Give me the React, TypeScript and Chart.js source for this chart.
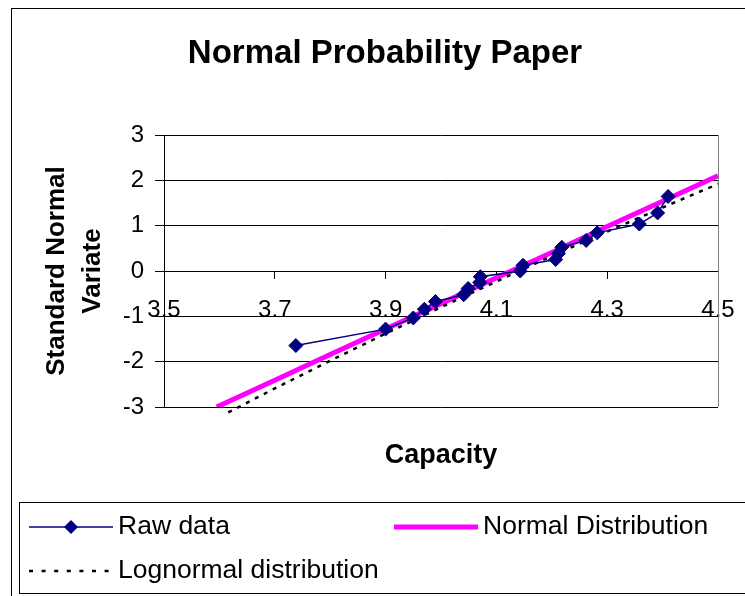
import React, { useEffect, useRef } from 'react';
import { Chart, registerables } from 'chart.js';

Chart.register(...registerables);

// ---- data ----
const rawCapacity = [3.738, 3.9, 3.95, 3.97, 3.99, 4.041, 4.049, 4.07, 4.071, 4.143, 4.148, 4.207, 4.212, 4.218, 4.262, 4.282, 4.358, 4.391, 4.41];
const rawVariate = [-1.645, -1.282, -1.036, -0.842, -0.674, -0.524, -0.385, -0.253, -0.126, 0, 0.126, 0.253, 0.385, 0.524, 0.674, 0.842, 1.036, 1.282, 1.645];

const normalCapacity = [3.595, 3.7, 3.8, 3.9, 4.0, 4.1, 4.2, 4.3, 4.4, 4.5];
const normalVariate = [-3.0, -2.41, -1.84, -1.28, -0.72, -0.15, 0.41, 0.98, 1.54, 2.1];

const lognormalCapacity = [3.616, 3.7, 3.8, 3.9, 4.0, 4.1, 4.2, 4.3, 4.4, 4.5];
const lognormalVariate = [-3.12, -2.59, -1.98, -1.38, -0.8, -0.23, 0.33, 0.87, 1.4, 1.92];

const xTickValues = [3.5, 3.7, 3.9, 4.1, 4.3, 4.5];
const yTickValues = [-3, -2, -1, 0, 1, 2, 3];

const chartTitle = 'Normal Probability Paper';
const xTitle = 'Capacity';
const yTitle = ['Standard Normal', 'Variate'];
const legendLabels = ['Raw data', 'Normal Distribution', 'Lognormal distribution'];

const NAVY = '#000080';
const PINK = '#FF00FF';
const BLACK = '#000000';
const FONT = "'Liberation Sans', Arial, Helvetica, sans-serif";

const decorPlugin = {
  id: 'decor',
  beforeDraw(chart: any) {
    const ctx = chart.ctx;
    ctx.save();
    ctx.fillStyle = '#ffffff';
    ctx.fillRect(0, 0, chart.width, chart.height);
    ctx.restore();
  },
  afterDraw(chart: any) {
    const ctx = chart.ctx;
    const a = chart.chartArea;
    ctx.save();
    // outer chart frame
    ctx.strokeStyle = BLACK;
    ctx.lineWidth = 1;
    ctx.strokeRect(11.5, 8.5, chart.width + 40, chart.height + 40);

    // plot area right border
    ctx.strokeStyle = '#808080';
    const rx = Math.round(a.right) + 0.5;
    ctx.beginPath();
    ctx.moveTo(rx, a.top);
    ctx.lineTo(rx, a.bottom);
    ctx.stroke();

    // chart title
    ctx.fillStyle = BLACK;
    ctx.textAlign = 'center';
    ctx.textBaseline = 'alphabetic';
    ctx.font = `bold 33px ${FONT}`;
    ctx.fillText(chartTitle, 385, 63);

    // x axis title
    ctx.font = `bold 27px ${FONT}`;
    ctx.fillText(xTitle, (a.left + a.right) / 2, 463);

    // y axis title (rotated, two lines)
    ctx.save();
    ctx.translate(64, (a.top + a.bottom) / 2);
    ctx.rotate(-Math.PI / 2);
    ctx.font = `bold 26px ${FONT}`;
    ctx.fillText(yTitle[0], 0, 0);
    ctx.fillText(yTitle[1], 0, 36);
    ctx.restore();

    // legend box
    ctx.strokeStyle = BLACK;
    ctx.lineWidth = 1;
    ctx.strokeRect(19.5, 502.5, chart.width + 40, 91);

    const row1 = 527;
    const row2 = 571;
    // raw data sample
    ctx.strokeStyle = NAVY;
    ctx.lineWidth = 1.5;
    ctx.beginPath();
    ctx.moveTo(29, row1);
    ctx.lineTo(113, row1);
    ctx.stroke();
    ctx.fillStyle = NAVY;
    ctx.beginPath();
    ctx.moveTo(71, row1 - 7);
    ctx.lineTo(78, row1);
    ctx.lineTo(71, row1 + 7);
    ctx.lineTo(64, row1);
    ctx.closePath();
    ctx.fill();
    // normal sample
    ctx.strokeStyle = PINK;
    ctx.lineWidth = 5;
    ctx.beginPath();
    ctx.moveTo(394, row1);
    ctx.lineTo(478, row1);
    ctx.stroke();
    // lognormal sample
    ctx.strokeStyle = BLACK;
    ctx.lineWidth = 2.5;
    ctx.setLineDash([4, 8.6]);
    ctx.beginPath();
    ctx.moveTo(29, row2);
    ctx.lineTo(113, row2);
    ctx.stroke();
    ctx.setLineDash([]);

    ctx.fillStyle = BLACK;
    ctx.textAlign = 'left';
    ctx.textBaseline = 'middle';
    ctx.font = `26.5px ${FONT}`;
    ctx.fillText(legendLabels[0], 118, row1);
    ctx.fillText(legendLabels[1], 483, row1);
    ctx.fillText(legendLabels[2], 118, row2);
    ctx.restore();
  },
};

export default function App() {
  const ref = useRef<HTMLCanvasElement | null>(null);

  useEffect(() => {
    if (!ref.current) return;
    const pts = (xs: number[], ys: number[]) => xs.map((x, i) => ({ x, y: ys[i] }));
    const chart = new Chart(ref.current, {
      type: 'scatter',
      data: {
        datasets: [
          {
            label: legendLabels[0],
            data: pts(rawCapacity, rawVariate),
            showLine: true,
            borderColor: NAVY,
            backgroundColor: NAVY,
            borderWidth: 1.5,
            pointStyle: 'rectRot',
            pointRadius: 7,
            pointBorderWidth: 1,
            pointBackgroundColor: NAVY,
            pointBorderColor: NAVY,
            order: 0,
          },
          {
            label: legendLabels[1],
            data: pts(normalCapacity, normalVariate),
            showLine: true,
            borderColor: PINK,
            backgroundColor: PINK,
            borderWidth: 5,
            pointRadius: 0,
            order: 2,
          },
          {
            label: legendLabels[2],
            data: pts(lognormalCapacity, lognormalVariate),
            showLine: true,
            borderColor: BLACK,
            backgroundColor: BLACK,
            borderWidth: 2.5,
            borderDash: [4, 6],
            pointRadius: 0,
            clip: false,
            order: 1,
          } as any,
        ],
      },
      options: {
        animation: false,
        responsive: false,
        devicePixelRatio: 1,
        layout: { padding: { left: 124, right: 27, top: 135, bottom: 189 } },
        plugins: {
          legend: { display: false },
          tooltip: { enabled: false },
          title: { display: false },
        },
        scales: {
          x: {
            type: 'linear',
            position: { y: 0 } as any,
            min: 3.5,
            max: 4.5,
            afterBuildTicks: (s: any) => {
              s.ticks = xTickValues.map((v) => ({ value: v }));
            },
            afterFit: (s: any) => {
              s.paddingLeft = 0;
              s.paddingRight = 0;
            },
            ticks: {
              autoSkip: false,
              maxRotation: 0,
              padding: 18,
              color: BLACK,
              font: { family: FONT, size: 24 },
              callback: (v: any) => Number(v).toFixed(1),
            },
            grid: { drawOnChartArea: false, drawTicks: true, tickLength: 7, color: BLACK },
            border: { display: true, color: BLACK, width: 1 },
          },
          y: {
            type: 'linear',
            position: 'left',
            min: -3,
            max: 3,
            afterBuildTicks: (s: any) => {
              s.ticks = yTickValues.map((v) => ({ value: v }));
            },
            afterFit: (s: any) => {
              s.width = 40;
            },
            ticks: {
              padding: 11,
              color: BLACK,
              font: { family: FONT, size: 24 },
              callback: (v: any) => String(v),
            },
            grid: { color: BLACK, lineWidth: 1, drawTicks: true, tickLength: 9 },
            border: { display: true, color: BLACK, width: 1 },
          },
        },
      },
      plugins: [decorPlugin],
    });
    return () => chart.destroy();
  }, []);

  return (
    <canvas
      ref={ref}
      width={745}
      height={596}
      style={{ position: 'absolute', left: 0, top: 0, width: 745, height: 596 }}
    />
  );
}
